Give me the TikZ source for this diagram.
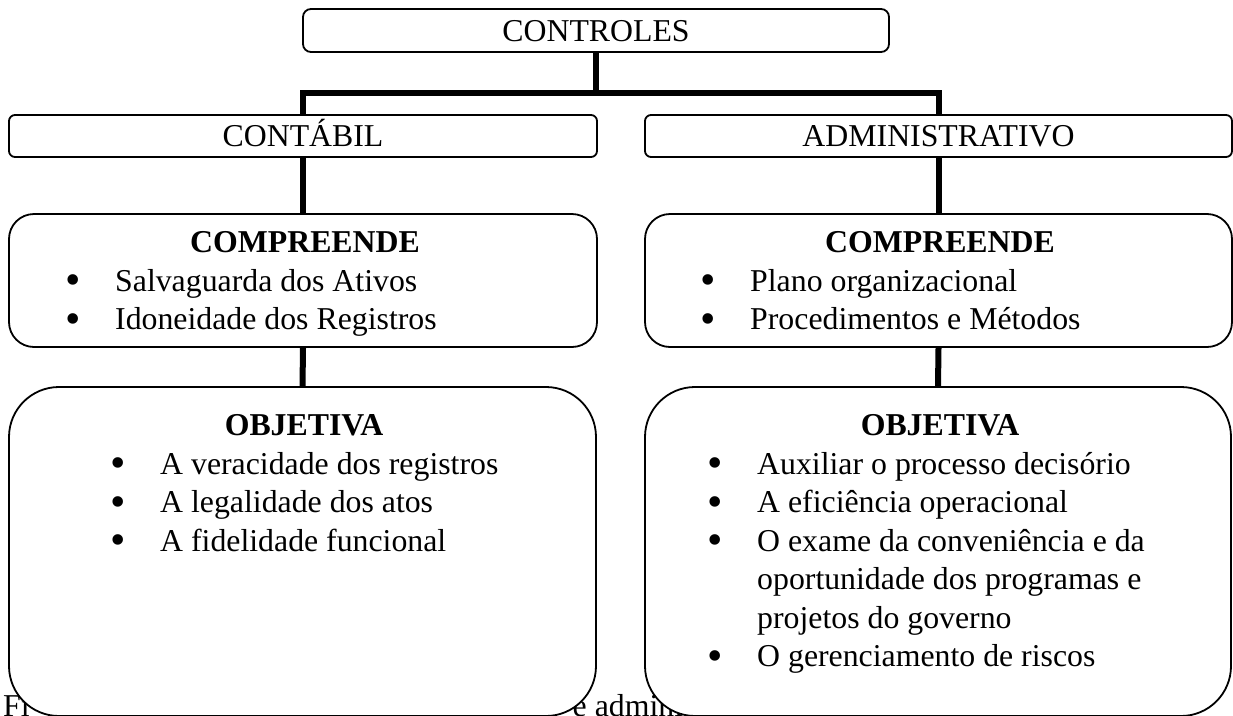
\documentclass[tikz,border=0pt]{standalone}
\usepackage{fontspec}
\setmainfont{Liberation Serif}
\newcommand\bulletmark{\llap{\makebox[84pt]{\smash{\raisebox{-3.5pt}{\fontsize{44}{44}\selectfont\textbullet}}}}}
\begin{document}
\begin{tikzpicture}[x=1pt,y=-1pt,
  every node/.style={font=\fontsize{31.8}{38.4}\selectfont,inner sep=0pt},
  box/.style={draw,line width=1.8pt,fill=white,rounded corners=#1,inner sep=0pt,text height=21pt,text depth=0pt},
  conn/.style={line width=6pt},
  head/.style={anchor=base,font=\fontsize{31.8}{38.4}\selectfont\bfseries},
  item/.style={anchor=base west}]
\useasboundingbox (0,0) rectangle (1233,715);
% caption, partly hidden behind the boxes
\node[anchor=base west] (caption) at (3,716) {Fi\hspace{543pt}e administrativo};
% boxes
\node[box=8pt,minimum width=586pt,minimum height=43pt] (controles) at (596,30.5) {CONTROLES};
\node[box=6pt,minimum width=588pt,minimum height=42pt] (contabil) at (303,136) {CONTÁBIL};
\node[box=6pt,minimum width=587pt,minimum height=42pt] (admin) at (938.5,136) {ADMINISTRATIVO};
\node[box=25pt,minimum width=588pt,minimum height=133pt] (compL) at (303,280.5) {};
\node[box=25pt,minimum width=587pt,minimum height=133pt] (compR) at (938.5,280.5) {};
\node[box=50pt,minimum width=587pt,minimum height=329pt] (objL) at (302.5,551.5) {};
\node[box=50pt,minimum width=586pt,minimum height=329pt] (objR) at (938,551.5) {};
% connectors
\coordinate (j) at (596,93);
\draw[conn] (controles.south) -- (j);
\draw[conn] (contabil.north) |- (j) -| (admin.north);
\draw[conn] (contabil.south) -- (compL.north);
\draw[conn] (compL.south) -- (objL.north);
\draw[conn] (admin.south) -- (compR.north);
\draw[conn] (compR.south) -- (objR.north);
% COMPREENDE left
\node[head] (compLh) at (305,252) {COMPREENDE};
\node[item] (compL1) at (115,291) {\bulletmark Salvaguarda dos Ativos};
\node[item] (compL2) at (115,329.5) {\bulletmark Idoneidade dos Registros};
% COMPREENDE right
\node[head] (compRh) at (940,252) {COMPREENDE};
\node[item] (compR1) at (750,291) {\bulletmark Plano organizacional};
\node[item] (compR2) at (750,329.5) {\bulletmark Procedimentos e Métodos};
% OBJETIVA left
\node[head] (objLh) at (304,435) {OBJETIVA};
\node[item] (objL1) at (160,474) {\bulletmark A veracidade dos registros};
\node[item] (objL2) at (160,512.5) {\bulletmark A legalidade dos atos};
\node[item] (objL3) at (160,551) {\bulletmark A fidelidade funcional};
% OBJETIVA right
\node[head] (objRh) at (940,435) {OBJETIVA};
\node[item] (objR1) at (757,474) {\bulletmark Auxiliar o processo decisório};
\node[item] (objR2) at (757,512.5) {\bulletmark A eficiência operacional};
\node[item] (objR3) at (757,551) {\bulletmark O exame da conveniência e da};
\node[item] (objR3b) at (757,589.5) {oportunidade dos programas e};
\node[item] (objR3c) at (757,628) {projetos do governo};
\node[item] (objR4) at (757,666.5) {\bulletmark O gerenciamento de riscos};
\end{tikzpicture}
\end{document}
